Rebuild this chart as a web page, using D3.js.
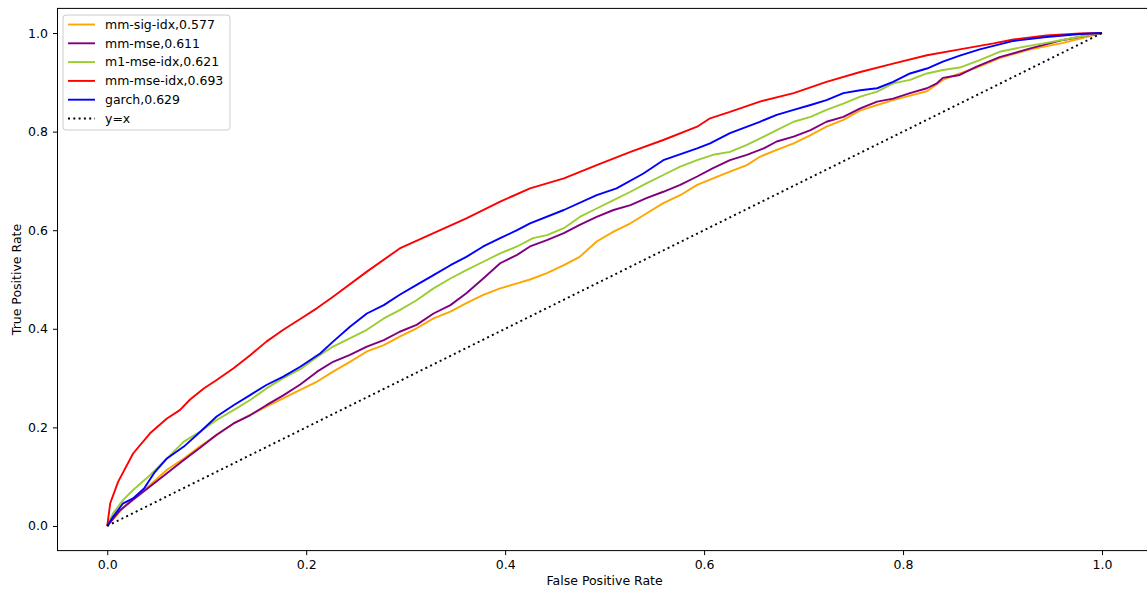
<!DOCTYPE html>
<html>
<head>
<meta charset="utf-8">
<script src="https://cdn.jsdelivr.net/npm/d3@7"></script>
<style>
  body { margin: 0; background: #fff; }
  svg { display: block; font-family: "DejaVu Sans", sans-serif; }
</style>
</head>
<body>
<script>
// ROC curves, [fpr, tpr] pairs
var mmSigIdx = [[0,0],[0.02,0.046],[0.043,0.083],[0.06,0.114],[0.077,0.137],[0.093,0.161],[0.127,0.208],[0.16,0.242],[0.194,0.276],[0.211,0.293],[0.227,0.313],[0.244,0.333],[0.261,0.354],[0.278,0.367],[0.294,0.384],[0.311,0.401],[0.328,0.421],[0.345,0.435],[0.361,0.452],[0.378,0.469],[0.395,0.482],[0.412,0.492],[0.425,0.5],[0.442,0.513],[0.459,0.529],[0.475,0.546],[0.492,0.577],[0.509,0.597],[0.526,0.614],[0.542,0.634],[0.559,0.655],[0.576,0.671],[0.593,0.692],[0.609,0.705],[0.626,0.719],[0.643,0.732],[0.656,0.749],[0.673,0.763],[0.69,0.776],[0.707,0.793],[0.723,0.81],[0.74,0.824],[0.757,0.843],[0.774,0.854],[0.79,0.864],[0.807,0.873],[0.824,0.882],[0.84,0.905],[0.857,0.918],[0.874,0.93],[0.897,0.949],[0.928,0.967],[0.961,0.98],[0.988,0.994],[1,1]];
var mmMse = [[0,0],[0.013,0.032],[0.026,0.053],[0.043,0.08],[0.06,0.107],[0.077,0.134],[0.093,0.158],[0.11,0.185],[0.127,0.208],[0.144,0.225],[0.16,0.245],[0.177,0.265],[0.194,0.287],[0.211,0.313],[0.227,0.333],[0.244,0.347],[0.261,0.364],[0.278,0.377],[0.294,0.394],[0.311,0.408],[0.328,0.431],[0.345,0.448],[0.361,0.472],[0.378,0.502],[0.395,0.533],[0.412,0.55],[0.425,0.567],[0.442,0.58],[0.459,0.594],[0.475,0.611],[0.492,0.627],[0.509,0.641],[0.526,0.651],[0.542,0.665],[0.559,0.678],[0.576,0.692],[0.593,0.709],[0.609,0.726],[0.626,0.742],[0.643,0.753],[0.66,0.766],[0.673,0.78],[0.69,0.79],[0.707,0.803],[0.723,0.82],[0.74,0.83],[0.757,0.847],[0.774,0.861],[0.79,0.867],[0.807,0.878],[0.824,0.888],[0.834,0.898],[0.84,0.909],[0.857,0.915],[0.874,0.932],[0.897,0.951],[0.928,0.969],[0.961,0.986],[0.988,0.996],[1,1]];
var m1MseIdx = [[0,0],[0.006,0.026],[0.016,0.053],[0.026,0.073],[0.043,0.103],[0.06,0.137],[0.077,0.171],[0.093,0.191],[0.11,0.215],[0.127,0.235],[0.144,0.256],[0.16,0.279],[0.177,0.3],[0.194,0.318],[0.211,0.343],[0.227,0.364],[0.261,0.398],[0.278,0.421],[0.294,0.438],[0.311,0.458],[0.328,0.482],[0.345,0.502],[0.361,0.519],[0.378,0.536],[0.395,0.553],[0.412,0.567],[0.428,0.584],[0.442,0.59],[0.459,0.604],[0.475,0.627],[0.492,0.644],[0.509,0.661],[0.526,0.678],[0.542,0.695],[0.559,0.712],[0.576,0.729],[0.593,0.742],[0.609,0.753],[0.626,0.759],[0.643,0.773],[0.66,0.79],[0.673,0.803],[0.69,0.82],[0.707,0.83],[0.723,0.844],[0.74,0.857],[0.757,0.871],[0.774,0.881],[0.79,0.898],[0.807,0.905],[0.824,0.918],[0.84,0.925],[0.857,0.93],[0.877,0.945],[0.897,0.962],[0.921,0.972],[0.944,0.98],[0.968,0.989],[0.988,0.996],[1,1]];
var mmMseIdx = [[0,0],[0.003,0.046],[0.011,0.09],[0.026,0.147],[0.043,0.188],[0.06,0.218],[0.073,0.235],[0.083,0.256],[0.097,0.279],[0.11,0.296],[0.127,0.32],[0.144,0.347],[0.16,0.374],[0.177,0.398],[0.194,0.42],[0.211,0.442],[0.227,0.465],[0.261,0.516],[0.294,0.563],[0.328,0.594],[0.361,0.624],[0.395,0.658],[0.425,0.685],[0.459,0.705],[0.492,0.732],[0.526,0.759],[0.559,0.783],[0.593,0.81],[0.606,0.827],[0.626,0.84],[0.656,0.861],[0.69,0.878],[0.723,0.901],[0.757,0.921],[0.79,0.938],[0.824,0.955],[0.857,0.967],[0.891,0.979],[0.911,0.987],[0.944,0.995],[0.978,0.999],[1,1]];
var garch = [[0,0],[0.006,0.019],[0.016,0.046],[0.026,0.056],[0.037,0.076],[0.047,0.107],[0.06,0.137],[0.077,0.161],[0.093,0.19],[0.11,0.222],[0.127,0.245],[0.144,0.266],[0.16,0.286],[0.177,0.303],[0.194,0.323],[0.214,0.35],[0.227,0.374],[0.244,0.404],[0.261,0.431],[0.278,0.448],[0.294,0.469],[0.311,0.489],[0.328,0.509],[0.345,0.529],[0.361,0.546],[0.378,0.567],[0.395,0.584],[0.412,0.6],[0.425,0.614],[0.459,0.641],[0.492,0.671],[0.512,0.685],[0.539,0.715],[0.559,0.742],[0.593,0.766],[0.606,0.776],[0.626,0.797],[0.656,0.82],[0.673,0.834],[0.69,0.844],[0.707,0.854],[0.723,0.864],[0.74,0.878],[0.757,0.884],[0.774,0.888],[0.79,0.901],[0.807,0.918],[0.824,0.928],[0.84,0.942],[0.857,0.954],[0.877,0.967],[0.911,0.984],[0.944,0.992],[0.978,0.998],[1,1]];
var diagonal = [[0,0],[1,1]];

var seriesNames = ["mm-sig-idx,0.577", "mm-mse,0.611", "m1-mse-idx,0.621", "mm-mse-idx,0.693", "garch,0.629", "y=x"];
var seriesData = [mmSigIdx, mmMse, m1MseIdx, mmMseIdx, garch, diagonal];
var seriesColors = ["orange", "purple", "yellowgreen", "red", "blue", "black"];
var tickValues = [0, 0.2, 0.4, 0.6, 0.8, 1.0];

var w = 1147, h = 592;
var plotLeft = 57.5, plotRight = 1151.75, plotTop = 8.4, plotBottom = 550.6;

var svg = d3.select("body").append("svg")
  .attr("width", w)
  .attr("height", h);

var x = d3.scaleLinear().domain([-0.05, 1.05]).range([plotLeft, plotRight]);
var y = d3.scaleLinear().domain([-0.05, 1.05]).range([plotBottom, plotTop]);

var line = d3.line()
  .x(function(d) { return x(d[0]); })
  .y(function(d) { return y(d[1]); });

// curves
svg.append("g").selectAll("path")
  .data(seriesData)
  .enter()
  .append("path")
  .attr("d", line)
  .attr("fill", "none")
  .attr("stroke", function(d, i) { return seriesColors[i]; })
  .attr("stroke-width", 1.9)
  .attr("stroke-linejoin", "round")
  .attr("stroke-dasharray", function(d, i) { return i === 5 ? "2,3.3" : null; });

// axes
var xAxis = d3.axisBottom(x).tickValues(tickValues).tickFormat(d3.format(".1f")).tickSize(4.5).tickPadding(5);
var yAxis = d3.axisLeft(y).tickValues(tickValues).tickFormat(d3.format(".1f")).tickSize(4.5).tickPadding(5);

var gx = svg.append("g").attr("transform", "translate(0," + plotBottom + ")").call(xAxis);
var gy = svg.append("g").attr("transform", "translate(" + plotLeft + ",0)").call(yAxis);
[gx, gy].forEach(function(g) {
  g.select(".domain").remove();
  g.selectAll("text").attr("font-size", "12.5px").attr("fill", "#000").attr("font-family", "DejaVu Sans, sans-serif");
  g.selectAll("line").attr("stroke", "#000").attr("stroke-width", 1);
});

// spines
svg.append("rect")
  .attr("x", plotLeft).attr("y", plotTop)
  .attr("width", plotRight - plotLeft).attr("height", plotBottom - plotTop)
  .attr("fill", "none").attr("stroke", "#000").attr("stroke-width", 1);

// axis labels
svg.append("text")
  .attr("x", (x(0) + x(1)) / 2).attr("y", 585)
  .attr("text-anchor", "middle")
  .attr("font-size", "12.5px")
  .text("False Positive Rate");

svg.append("text")
  .attr("transform", "translate(21," + y(0.5) + ") rotate(-90)")
  .attr("text-anchor", "middle")
  .attr("font-size", "12.5px")
  .text("True Positive Rate");

// legend
var legend = svg.append("g").attr("transform", "translate(63,15)");
legend.append("rect")
  .attr("width", 167).attr("height", 115)
  .attr("rx", 3)
  .attr("fill", "#fff").attr("fill-opacity", 0.8)
  .attr("stroke", "#ccc").attr("stroke-width", 1);

var items = legend.selectAll("g.item")
  .data(seriesNames)
  .enter()
  .append("g")
  .attr("class", "item")
  .attr("transform", function(d, i) { return "translate(0," + (9.5 + i * 18.8) + ")"; });

items.append("line")
  .attr("x1", 5).attr("x2", 32)
  .attr("stroke", function(d, i) { return seriesColors[i]; })
  .attr("stroke-width", 1.9)
  .attr("stroke-dasharray", function(d, i) { return i === 5 ? "2,3.3" : null; });

items.append("text")
  .attr("x", 42).attr("dy", "0.35em")
  .attr("font-size", "12.5px")
  .text(function(d) { return d; });
</script>
</body>
</html>
